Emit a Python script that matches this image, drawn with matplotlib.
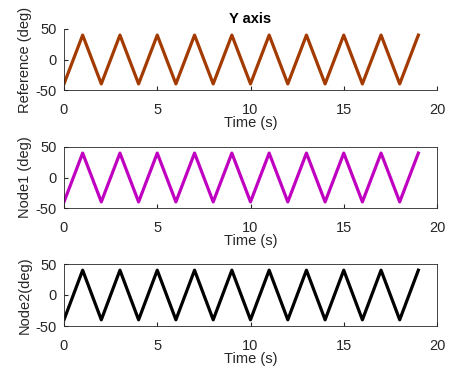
import matplotlib
matplotlib.use("Agg")
import matplotlib.pyplot as plt

plt.rcParams['font.family'] = ['Liberation Sans', 'DejaVu Sans']
plt.rcParams['axes.unicode_minus'] = False

# datos: onda triangular
time_s = [0, 1, 2, 3, 4, 5, 6, 7, 8, 9, 10, 11, 12, 13, 14, 15, 16, 17, 18, 19]
reference = [-40, 40, -40, 40, -40, 40, -40, 40, -40, 40,
             -40, 40, -40, 40, -40, 40, -40, 40, -40, 40]
node1 = [-40, 40, -40, 40, -40, 40, -40, 40, -40, 40,
         -40, 40, -40, 40, -40, 40, -40, 40, -40, 40]
node2 = [-40, 40, -40, 40, -40, 40, -40, 40, -40, 40,
         -40, 40, -40, 40, -40, 40, -40, 40, -40, 40]

xticks = [0, 5, 10, 15, 20]
yticks = [-50, 0, 50]

series = [
    (reference, '#A33A00', 'Reference (deg)', False),
    (node1, '#C000C0', 'Node1 (deg)', True),
    (node2, '#000000', 'Node2(deg)', True),
]

W, H = 450, 374
fig = plt.figure(figsize=(W / 100, H / 100), dpi=100)

# posiciones en pixeles (izq, arriba, der, abajo)
boxes = [(64, 29, 437, 90), (64, 147, 437, 208), (64, 264, 437, 326)]

for i, (vals, col, ylab, box) in enumerate(series):
    l, t, r, b = boxes[i]
    ax = fig.add_axes([l / W, 1 - b / H, (r - l) / W, (b - t) / H])
    ax.plot(time_s, vals, color=col, linewidth=2.3, solid_joinstyle='round')
    ax.set_xlim(0, 20)
    ax.set_ylim(-50, 50)
    ax.set_xticks(xticks)
    ax.set_yticks(yticks)
    ax.tick_params(direction='in', length=3, labelsize=10.5, colors='#262626',
                   labelcolor='#262626', top=False, right=False)
    ax.tick_params(axis='x', pad=9)
    ax.tick_params(axis='y', pad=5)
    for s in ax.spines.values():
        s.set_color('#262626')
        s.set_linewidth(0.6)
    if not box:
        ax.spines['top'].set_visible(False)
        ax.spines['right'].set_visible(False)
    ax.set_xlabel('Time (s)', fontsize=10.5, color='#262626', labelpad=0)
    ax.set_ylabel(ylab, fontsize=10.5, color='#262626', labelpad=3)
    if i == 0:
        ax.set_title('Y axis', fontsize=10.5, fontweight='bold', pad=4)

fig.savefig('out.png', dpi=100)
